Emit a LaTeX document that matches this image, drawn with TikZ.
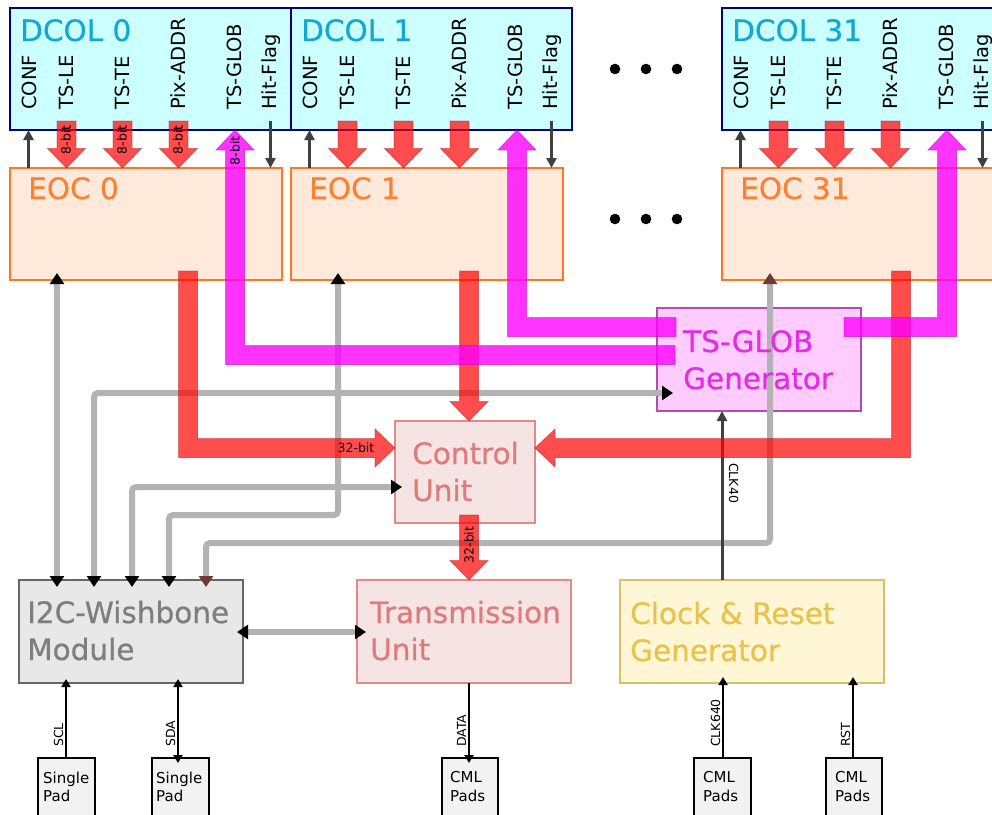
\documentclass[tikz,border=0pt]{standalone}
\usepackage{fontspec}
\setmainfont{DejaVu Sans}
\newfontfamily\titlefont[FakeBold=0.6]{DejaVu Sans}
\usetikzlibrary{arrows.meta}
\definecolor{dcolfill}{HTML}{CCFFFF}
\definecolor{dcoldraw}{HTML}{000080}
\definecolor{dcoltext}{HTML}{12A8D2}
\definecolor{eocfill}{HTML}{FFE9DB}
\definecolor{eocdraw}{HTML}{FF7722}
\definecolor{eoctext}{HTML}{FF8030}
\definecolor{cufill}{HTML}{F6E3E3}
\definecolor{cudraw}{HTML}{E08A8A}
\definecolor{cutext}{HTML}{DE7C7C}
\definecolor{tsfill}{HTML}{FFCCFF}
\definecolor{tsdraw}{HTML}{B04CB0}
\definecolor{tstext}{HTML}{E62AE6}
\definecolor{ckfill}{HTML}{FFF6D6}
\definecolor{ckdraw}{HTML}{D9C066}
\definecolor{cktext}{HTML}{E8C24A}
\definecolor{i2cfill}{HTML}{E8E8E8}
\definecolor{i2cdraw}{HTML}{666666}
\definecolor{i2ctext}{HTML}{7E7E7E}
\definecolor{busgray}{HTML}{B3B3B3}
\definecolor{sigdark}{HTML}{404040}
\definecolor{padfill}{HTML}{F2F2F2}
\definecolor{brownhead}{HTML}{6B3A32}
\definecolor{fatred}{RGB}{255,0,0}
\definecolor{fatredb}{HTML}{B02020}
\definecolor{fatmag}{RGB}{255,0,255}
\definecolor{fatmagb}{HTML}{C000C0}
\tikzset{
  BK/.tip={Triangle[width=14pt,length=11pt,color=black]},
  BR/.tip={Triangle[width=14pt,length=11pt,color=brownhead]},
  DK/.tip={Triangle[width=10pt,length=10pt]},
  TK/.tip={Triangle[width=9pt,length=8pt]},
  box/.style={rectangle, inner sep=0pt, outer sep=0pt, anchor=north west, line width=1.2pt},
  dcolbox/.style={box, fill=dcolfill, draw=dcoldraw},
  eocbox/.style={box, fill=eocfill, draw=eocdraw},
  cubox/.style={box, fill=cufill, draw=cudraw},
  tsbox/.style={box, fill=tsfill, draw=tsdraw},
  ckbox/.style={box, fill=ckfill, draw=ckdraw},
  i2cbox/.style={box, fill=i2cfill, draw=i2cdraw},
  padbox/.style={box, fill=padfill, draw=black, line width=1.5pt},
  title/.style={anchor=base west, inner sep=0pt, font=\titlefont\fontsize{29.5}{36}\selectfont},
  siglabel/.style={rotate=90, anchor=west, inner sep=0pt, text height=14pt, text depth=0pt, font=\fontsize{19.5}{22}\selectfont},
  bitlabel/.style={rotate=90, inner sep=0pt, font=\fontsize{12.5}{14}\selectfont},
  hbitlabel/.style={inner sep=0pt, font=\fontsize{12.5}{14}\selectfont},
  padlab/.style={rotate=90, anchor=base west, inner sep=0pt, font=\fontsize{12.5}{14}\selectfont},
  padtext/.style={anchor=base west, inner sep=0pt, font=\fontsize{15}{18}\selectfont},
  fatr/.style={fill=fatred, fill opacity=0.7, draw=fatredb, draw opacity=0.5, line width=0.8pt},
  fatm/.style={fill=fatmag, fill opacity=0.8, draw=fatmagb, draw opacity=0.5, line width=0.8pt},
  bus/.style={draw=busgray, line width=6pt, rounded corners=4pt},
  sigline/.style={draw=sigdark, line width=3pt},
  padline/.style={draw=black, line width=2pt}
}
\newcommand{\fatdown}[4]{% style, x, ytop, ytip
  \filldraw[#1] ({#2-9.5},#3) -- ({#2-9.5},{#4-19.5}) -- ({#2-19},{#4-19.5}) -- (#2,#4)
    -- ({#2+19},{#4-19.5}) -- ({#2+9.5},{#4-19.5}) -- ({#2+9.5},#3) -- cycle;}
\newcommand{\dcolumn}[3]{% left, number, width
  \node[dcolbox, minimum width=#3, minimum height=122] (dcol#2) at (#1,8) {};
  \node[eocbox, minimum width=#3-9, minimum height=112] (eoc#2) at (#1,168) {};
  \node[title, text=dcoltext] (dcolt#2) at (#1+10,41) {DCOL #2};
  \node[title, text=eoctext] (eoct#2) at (#1+18,199) {EOC #2};
  \foreach \dx/\lbl [count=\i] in {19/CONF,56/TS-LE,112/TS-TE,168/Pix-ADDR,224.5/TS-GLOB,259.5/Hit-Flag}
    {\node[siglabel] (sl#2n\i) at (#1+\dx,110) {\lbl};}
}
\newcommand{\dcollinks}[1]{%
  \draw[sigline,-DK] (#1+18.5,168) -- (#1+18.5,130);
  \draw[sigline,-DK] (#1+260.5,121) -- (#1+260.5,168);
  \foreach \dx in {56.5,112.5,168.5} {\fatdown{fatr}{#1+\dx}{121}{168}}
}
\begin{document}
\begin{tikzpicture}[x=1pt,y=-1pt]
\useasboundingbox (0,0) rectangle (992,814);
\clip (0,0) rectangle (992,814);

% ---- boxes
\dcolumn{10}{0}{281}
\dcolumn{291}{1}{281}
\dcolumn{722}{31}{300}
\node[tsbox, minimum width=204, minimum height=103] (tsgen) at (657,308) {};
\node[cubox, minimum width=140, minimum height=102] (ctrl) at (395,421) {};
\node[cubox, minimum width=214, minimum height=103] (trans) at (357,580) {};
\node[ckbox, minimum width=264, minimum height=103] (clk) at (620,580) {};
\node[i2cbox, minimum width=224, minimum height=103] (i2c) at (19,580) {};
\node[padbox, minimum width=57, minimum height=70] (pad1) at (38,758) {};
\node[padbox, minimum width=57, minimum height=70] (pad2) at (152,758) {};
\node[padbox, minimum width=56, minimum height=70] (pad3) at (442,758) {};
\node[padbox, minimum width=57, minimum height=70] (pad4) at (694,758) {};
\node[padbox, minimum width=56, minimum height=70] (pad5) at (826,758) {};

% ---- ellipsis
\foreach \yy in {69,219} \foreach \xx in {615,646,677}
  \fill[black] (\xx,\yy) circle[radius=5.3pt];

% ---- gray buses
\draw[bus, BK-BK] (57,587) -- (57,273);
\draw[bus, BK-BK] (94,587) |- (673,393);
\draw[bus, BK-BK] (132,587) |- (402,487);
\draw[bus, BK-BK] (169,587) |- (338,515) -- (338,273);
\draw[bus, BR-BR] (206,587) |- (770,543) -- (770,273);
\draw[bus, BK-BK] (237,632) -- (366,632);

% ---- thin signal lines
\dcollinks{10}
\dcollinks{291}
\dcollinks{722}
\draw[sigline,-DK] (722,580) -- (722,411);
\draw[padline,-TK] (66,758) -- (66,679);
\draw[padline,TK-TK] (178,763) -- (178,679);
\draw[padline,-TK] (469,683) -- (469,763);
\draw[padline,-TK] (723,758) -- (723,677);
\draw[padline,-TK] (853,758) -- (853,677);

% ---- fat red arrows
\filldraw[fatr] (178.5,271) -- (178.5,457.5) -- (375,457.5) -- (375,467) -- (395,448)
  -- (375,429) -- (375,438.5) -- (197.5,438.5) -- (197.5,271) -- cycle;
\fatdown{fatr}{469}{271}{421}
\filldraw[fatr] (910.5,271) -- (910.5,457.5) -- (555,457.5) -- (555,467) -- (535,448)
  -- (555,429) -- (555,438.5) -- (891.5,438.5) -- (891.5,271) -- cycle;
\fatdown{fatr}{469}{515}{580}

% ---- fat magenta arrows
\filldraw[fatm] (675,345.5) -- (244.5,345.5) -- (244.5,150) -- (254,150) -- (235,130)
  -- (216,150) -- (225.5,150) -- (225.5,364.5) -- (675,364.5) -- cycle;
\filldraw[fatm] (676,317.5) -- (526.5,317.5) -- (526.5,150) -- (536,150) -- (517,130)
  -- (498,150) -- (507.5,150) -- (507.5,336.5) -- (676,336.5) -- cycle;
\filldraw[fatm] (844,317.5) -- (937.5,317.5) -- (937.5,150) -- (928,150) -- (947,130)
  -- (966,150) -- (956.5,150) -- (956.5,336.5) -- (844,336.5) -- cycle;

% ---- labels
\foreach \dx [count=\i] in {56,112,168} {\node[bitlabel] (bit\i) at (10+\dx,140) {8-bit};}
\node[bitlabel] (bit4) at (235,151) {8-bit};
\node[hbitlabel] (bit5) at (356,448) {32-bit};
\node[bitlabel] (bit6) at (469,545) {32-bit};
\node[rotate=-90, anchor=base west, inner sep=0pt, font=\fontsize{12.5}{14}\selectfont] (clk40) at (729,463) {CLK40};
\node[padlab] (lscl) at (63,747) {SCL};
\node[padlab] (lsda) at (175,747) {SDA};
\node[padlab] (ldata) at (466,747) {DATA};
\node[padlab] (lclk640) at (720,747) {CLK640};
\node[padlab] (lrst) at (850,747) {RST};

\node[title, text=tstext] (tsg1) at (683,352) {TS-GLOB};
\node[title, text=tstext] (tsg2) at (683,389) {Generator};
\node[title, text=cutext] (cu1) at (412,464) {Control};
\node[title, text=cutext] (cu2) at (412,501) {Unit};
\node[title, text=cutext] (tu1) at (370,623) {Transmission};
\node[title, text=cutext] (tu2) at (370,660) {Unit};
\node[title, text=i2ctext] (iw1) at (27,623) {I2C-Wishbone};
\node[title, text=i2ctext] (iw2) at (27,660) {Module};
\node[title, text=cktext] (ck1) at (630,624) {Clock \& Reset};
\node[title, text=cktext] (ck2) at (630,661) {Generator};

\node[padtext] (p1a) at (43,783) {Single};
\node[padtext] (p1b) at (43,801) {Pad};
\node[padtext] (p2a) at (156,783) {Single};
\node[padtext] (p2b) at (156,801) {Pad};
\node[padtext] (p3a) at (450,782) {CML};
\node[padtext] (p3b) at (450,801) {Pads};
\node[padtext] (p4a) at (703,782) {CML};
\node[padtext] (p4b) at (703,801) {Pads};
\node[padtext] (p5a) at (835,782) {CML};
\node[padtext] (p5b) at (835,801) {Pads};
\end{tikzpicture}
\end{document}
